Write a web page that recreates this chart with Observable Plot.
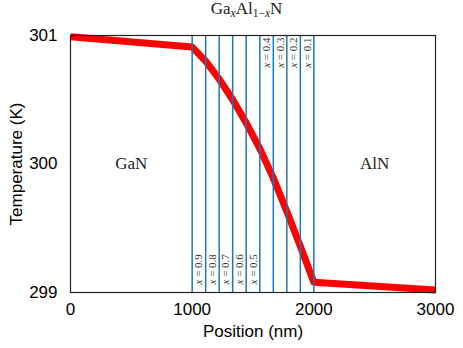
<!DOCTYPE html>
<html>
<head>
<meta charset="utf-8">
<script src="https://cdn.jsdelivr.net/npm/d3@7"></script>
<script src="https://cdn.jsdelivr.net/npm/@observablehq/plot@0.6"></script>
<style>
  body { margin: 0; background: #fff; }
  #wrap { position: relative; width: 463px; height: 348px; overflow: hidden; }
  #title {
    position: absolute; top: 1px; left: 64px; width: 365px; text-align: center;
    font-family: "Liberation Serif", "Times New Roman", serif; font-size: 17px; line-height: 16px; color: #222;
  }
  #title sub { font-size: 11.5px; vertical-align: -3px; line-height: 0; }
</style>
</head>
<body>
<div id="wrap">
  <div id="title">Ga<sub><i>x</i></sub>Al<sub>1−<i>x</i></sub>N</div>
</div>
<script>
// Temperature profile
const positions    = [0, 1000, 1111, 1222, 1333, 1444, 1556, 1667, 1778, 1889, 2000, 3000];
const temperatures = [300.99, 300.91, 300.80, 300.66, 300.50, 300.32, 300.12, 299.89, 299.63, 299.36, 299.08, 299.02];

// Layer boundaries of the GaxAl1-xN grading and their compositions
const boundaries = [1000, 1111, 1222, 1333, 1444, 1556, 1667, 1778, 1889, 2000];
const fractions  = [0.9, 0.8, 0.7, 0.6, 0.5, 0.4, 0.3, 0.2, 0.1];

// Region labels
const regionNames = ["GaN", "AlN"];
const regionX     = [500, 2500];
const regionY     = [300, 300];

// Axis ticks
const xTicks = [0, 1000, 2000, 3000];
const yTicks = [299, 300, 301];

const profile = positions.map((p, i) => ({x: p, y: temperatures[i]}));
const layers = fractions.map((f, i) => ({x: (boundaries[i] + boundaries[i + 1]) / 2, f, label: "x = " + f}));
const bottomLayers = layers.filter(d => d.f >= 0.5);
const topLayers = layers.filter(d => d.f < 0.5);
const regions = regionNames.map((n, i) => ({name: n, x: regionX[i], y: regionY[i]}));

const serif = "'Liberation Serif', 'Times New Roman', serif";

const chart = Plot.plot({
  width: 463,
  height: 348,
  marginLeft: 70,
  marginRight: 28,
  marginTop: 35,
  marginBottom: 56,
  style: {fontFamily: "'Liberation Sans', Arial, sans-serif", fontSize: "17px", background: "transparent", color: "black"},
  x: {domain: [0, 3000]},
  y: {domain: [299, 301]},
  marks: [
    Plot.line(profile, {x: "x", y: "y", stroke: "#ff0000", strokeWidth: 7, strokeLinecap: "butt", strokeLinejoin: "round"}),
    Plot.ruleX(boundaries, {stroke: "#1f77b4", strokeWidth: 1.5}),
    Plot.text(bottomLayers, {x: "x", frameAnchor: "bottom", dy: -8, text: "label", rotate: -90, textAnchor: "start", lineAnchor: "middle", fontFamily: serif, fontSize: 11, fill: "#333"}),
    Plot.text(topLayers, {x: "x", frameAnchor: "top", dy: 2, text: "label", rotate: -90, textAnchor: "end", lineAnchor: "middle", fontFamily: serif, fontSize: 11, fill: "#333"}),
    Plot.text(regions, {x: "x", y: "y", text: "name", fontFamily: serif, fontSize: 17, fill: "#222"}),
    Plot.frame({stroke: "#222", strokeWidth: 1.2}),
    Plot.axisX({ticks: xTicks, tickSize: 0, tickPadding: 10, tickFormat: d => String(d), label: "Position (nm)", labelAnchor: "center", labelArrow: "none", labelOffset: 44, fontSize: 17}),
    Plot.axisY({ticks: yTicks, tickSize: 0, tickPadding: 13, tickFormat: d => String(d), label: "Temperature (K)", labelAnchor: "center", labelArrow: "none", labelOffset: 61, fontSize: 17})
  ]
});

// italicise the variable x in the layer labels
chart.querySelectorAll("text").forEach(t => {
  const s = t.textContent;
  if (/^x = /.test(s)) {
    t.textContent = "";
    const ns = "http://www.w3.org/2000/svg";
    const a = document.createElementNS(ns, "tspan");
    a.setAttribute("font-style", "italic");
    a.textContent = "x";
    const b = document.createElementNS(ns, "tspan");
    b.textContent = s.slice(1);
    t.appendChild(a); t.appendChild(b);
  }
});

chart.style.position = "absolute";
chart.style.left = "0";
chart.style.top = "0";
document.getElementById("wrap").appendChild(chart);
</script>
</body>
</html>
